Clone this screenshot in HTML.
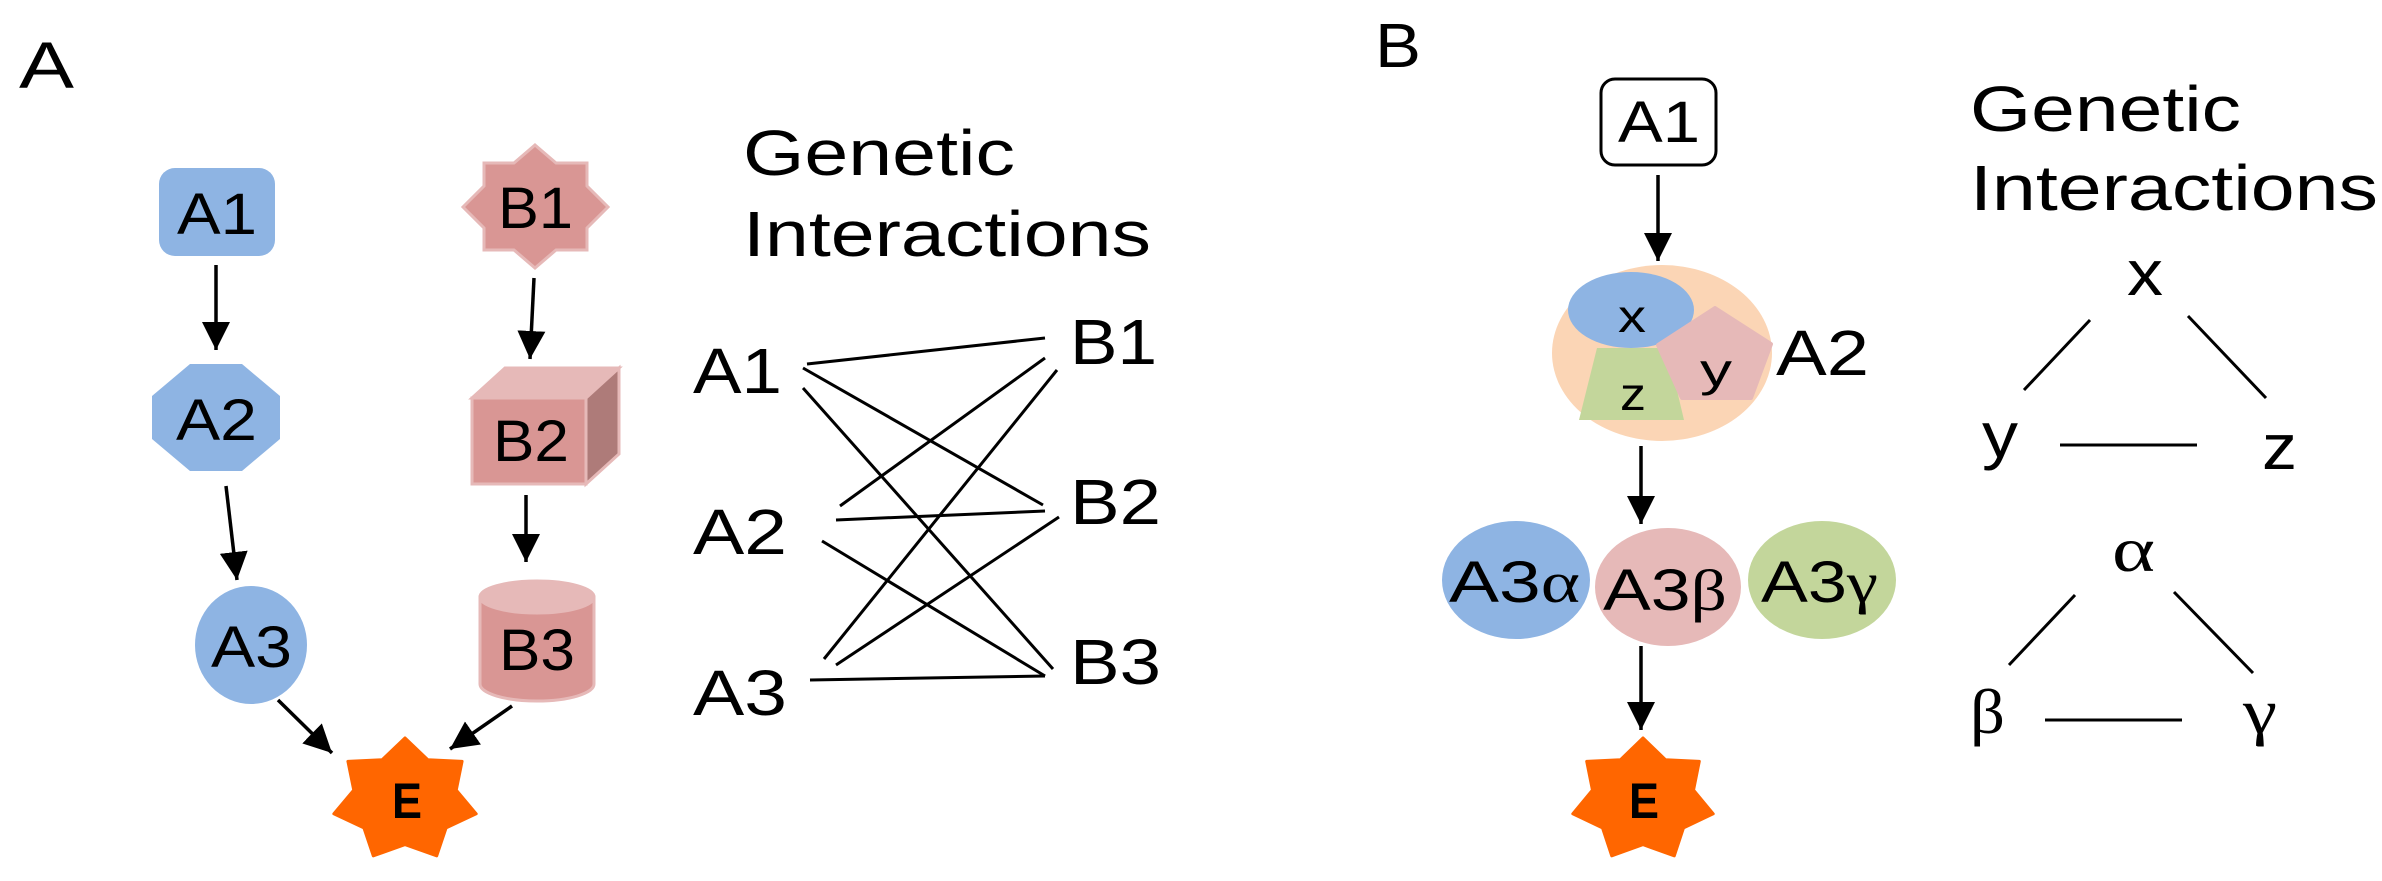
<!DOCTYPE html>
<html><head><meta charset="utf-8"><style>html,body{margin:0;padding:0;background:#fff}svg{display:block}</style></head>
<body>
<svg width="2382" height="881" viewBox="0 0 2382 881" xmlns="http://www.w3.org/2000/svg" font-family="'Liberation Sans', sans-serif">
<defs>
<marker id="ah" markerUnits="userSpaceOnUse" markerWidth="30" markerHeight="28" refX="28" refY="14" orient="auto">
<path d="M0,0 L28,14 L0,28 Z" fill="#000"/>
</marker>
</defs>
<rect width="2382" height="881" fill="#fff"/>
<g fill="#000">
<text x="19" y="88" font-size="66" textLength="55" lengthAdjust="spacingAndGlyphs">A</text>
<text x="1375" y="67" font-size="62" textLength="46" lengthAdjust="spacingAndGlyphs">B</text>
</g>

<!-- Panel A shapes -->
<rect x="159" y="168" width="116" height="88" rx="16" fill="#8EB4E3"/>
<polygon points="190,364 242,364 280,396 280,439 242,471 190,471 152,439 152,396" fill="#8EB4E3"/>
<ellipse cx="251" cy="645" rx="56" ry="59" fill="#8EB4E3"/>
<polygon points="535,145 556,163 587,163 587,186 608,207 587,228 587,250 556,250 535,268 514,250 484,250 484,228 463,207 484,186 484,163 514,163" fill="#D99694" stroke="#E6B9B8" stroke-width="3"/>
<polygon points="472,398 505,368 619,368 586,398" fill="#E6B9B8" stroke="#E6B9B8" stroke-width="3"/>
<polygon points="586,398 619,368 619,454 586,484" fill="#AE7B79" stroke="#E6B9B8" stroke-width="3"/>
<rect x="472" y="398" width="114" height="86" fill="#D99694" stroke="#E6B9B8" stroke-width="3"/>
<path d="M480,597 L480,684 A57,17 0 0 0 594,684 L594,597 Z" fill="#D99694" stroke="#E6B9B8" stroke-width="3"/>
<ellipse cx="537" cy="597" rx="57" ry="16" fill="#E6B9B8" stroke="#E6B9B8" stroke-width="3"/>
<polygon transform="translate(405,800) scale(73,62)" fill="#FF6600" stroke="#FF6600" stroke-width="3" stroke-linejoin="round" vector-effect="non-scaling-stroke" points="0,-1 0.312,-0.649 0.782,-0.624 0.702,-0.160 0.975,0.223 0.563,0.449 0.434,0.901 0,0.72 -0.434,0.901 -0.563,0.449 -0.975,0.223 -0.702,-0.160 -0.782,-0.624 -0.312,-0.649"/>

<g fill="#000" font-size="58">
<text x="177" y="234" textLength="80" lengthAdjust="spacingAndGlyphs">A1</text>
<text x="176" y="440" textLength="81" lengthAdjust="spacingAndGlyphs">A2</text>
<text x="211" y="667" textLength="81" lengthAdjust="spacingAndGlyphs">A3</text>
<text x="498" y="228" textLength="75" lengthAdjust="spacingAndGlyphs">B1</text>
<text x="493" y="461" textLength="76" lengthAdjust="spacingAndGlyphs">B2</text>
<text x="499" y="670" textLength="76" lengthAdjust="spacingAndGlyphs">B3</text>
<text x="392" y="818" font-size="50" font-weight="bold" textLength="30" lengthAdjust="spacingAndGlyphs">E</text>
</g>

<g stroke="#000" stroke-width="3.5" marker-end="url(#ah)">
<line x1="216" y1="265" x2="216" y2="350"/>
<line x1="226" y1="486" x2="237" y2="580"/>
<line x1="278" y1="700" x2="332" y2="753"/>
<line x1="534" y1="278" x2="530" y2="359"/>
<line x1="526" y1="495" x2="526" y2="562"/>
<line x1="512" y1="706" x2="450" y2="749"/>
</g>

<g fill="#000" font-size="64">
<text x="743" y="175" textLength="272" lengthAdjust="spacingAndGlyphs">Genetic</text>
<text x="743" y="256" textLength="408" lengthAdjust="spacingAndGlyphs">Interactions</text>
<text x="693" y="393" textLength="89" lengthAdjust="spacingAndGlyphs">A1</text>
<text x="693" y="554" textLength="94" lengthAdjust="spacingAndGlyphs">A2</text>
<text x="693" y="715" textLength="94" lengthAdjust="spacingAndGlyphs">A3</text>
<text x="1070" y="364" textLength="87" lengthAdjust="spacingAndGlyphs">B1</text>
<text x="1070" y="524" textLength="91" lengthAdjust="spacingAndGlyphs">B2</text>
<text x="1070" y="684" textLength="91" lengthAdjust="spacingAndGlyphs">B3</text>
</g>
<g stroke="#000" stroke-width="3">
<line x1="807" y1="364" x2="1045" y2="338"/>
<line x1="803" y1="368" x2="1043" y2="505"/>
<line x1="803" y1="388" x2="1053" y2="669"/>
<line x1="840" y1="506" x2="1045" y2="358"/>
<line x1="836" y1="520" x2="1045" y2="511"/>
<line x1="822" y1="541" x2="1045" y2="676"/>
<line x1="824" y1="659" x2="1057" y2="370"/>
<line x1="836" y1="665" x2="1059" y2="517"/>
<line x1="810" y1="680" x2="1045" y2="676"/>
</g>

<!-- Panel B -->
<rect x="1601" y="79" width="115" height="86" rx="14" fill="#fff" stroke="#000" stroke-width="3"/>
<text x="1618" y="142" font-size="58" textLength="82" lengthAdjust="spacingAndGlyphs">A1</text>
<ellipse cx="1662" cy="353" rx="110" ry="88" fill="#FBD5B5"/>
<ellipse cx="1631" cy="310" rx="63" ry="38" fill="#8EB4E3"/>
<polygon points="1597,348 1667,348 1684,420 1579,420" fill="#C3D69B"/>
<polygon points="1715,308 1771,344 1751,398 1682,398 1658,345" fill="#E6B9B8" stroke="#E6B9B8" stroke-width="4" stroke-linejoin="round"/>
<g fill="#000" font-size="46">
<text x="1618" y="332" textLength="28" lengthAdjust="spacingAndGlyphs">x</text>
<text x="1700" y="386" textLength="32" lengthAdjust="spacingAndGlyphs">y</text>
<text x="1620" y="410" textLength="26" lengthAdjust="spacingAndGlyphs">z</text>
</g>
<text x="1776" y="375" font-size="64" textLength="93" lengthAdjust="spacingAndGlyphs">A2</text>

<ellipse cx="1516" cy="580" rx="74" ry="59" fill="#8EB4E3"/>
<ellipse cx="1668" cy="587" rx="73" ry="59" fill="#E6B9B8"/>
<ellipse cx="1822" cy="580" rx="74" ry="59" fill="#C3D69B"/>
<g fill="#000" font-size="58">
<text x="1449" y="602" textLength="131" lengthAdjust="spacingAndGlyphs">A3<tspan font-family="'Liberation Serif', serif">α</tspan></text>
<text x="1603" y="610" textLength="124" lengthAdjust="spacingAndGlyphs">A3<tspan font-family="'Liberation Serif', serif">β</tspan></text>
<text x="1761" y="602" textLength="117" lengthAdjust="spacingAndGlyphs">A3<tspan font-family="'Liberation Serif', serif">γ</tspan></text>
</g>
<polygon transform="translate(1643,800) scale(72,62)" fill="#FF6600" stroke="#FF6600" stroke-width="3" stroke-linejoin="round" vector-effect="non-scaling-stroke" points="0,-1 0.312,-0.649 0.782,-0.624 0.702,-0.160 0.975,0.223 0.563,0.449 0.434,0.901 0,0.72 -0.434,0.901 -0.563,0.449 -0.975,0.223 -0.702,-0.160 -0.782,-0.624 -0.312,-0.649"/>
<text x="1629" y="818" font-size="50" font-weight="bold" textLength="30" lengthAdjust="spacingAndGlyphs">E</text>

<g stroke="#000" stroke-width="3.5" marker-end="url(#ah)">
<line x1="1658" y1="175" x2="1658" y2="261"/>
<line x1="1641" y1="446" x2="1641" y2="524"/>
<line x1="1641" y1="646" x2="1641" y2="730"/>
</g>

<g fill="#000" font-size="64">
<text x="1970" y="131" textLength="271" lengthAdjust="spacingAndGlyphs">Genetic</text>
<text x="1970" y="210" textLength="408" lengthAdjust="spacingAndGlyphs">Interactions</text>
<text x="2127" y="295" textLength="36" lengthAdjust="spacingAndGlyphs">x</text>
<text x="1982" y="457" textLength="36" lengthAdjust="spacingAndGlyphs">y</text>
<text x="2262" y="469" textLength="35" lengthAdjust="spacingAndGlyphs">z</text>
</g>
<g fill="#000" font-size="64" font-family="'Liberation Serif', serif">
<text x="2112" y="571" textLength="43" lengthAdjust="spacingAndGlyphs">α</text>
<text x="1970" y="733" textLength="35" lengthAdjust="spacingAndGlyphs">β</text>
<text x="2243" y="733" textLength="34" lengthAdjust="spacingAndGlyphs">γ</text>
</g>
<g stroke="#000" stroke-width="3">
<line x1="2090" y1="320" x2="2024" y2="390"/>
<line x1="2188" y1="316" x2="2266" y2="398"/>
<line x1="2060" y1="445" x2="2197" y2="445"/>
<line x1="2075" y1="595" x2="2009" y2="665"/>
<line x1="2174" y1="592" x2="2253" y2="673"/>
<line x1="2045" y1="720" x2="2182" y2="720"/>
</g>
</svg>
</body></html>
